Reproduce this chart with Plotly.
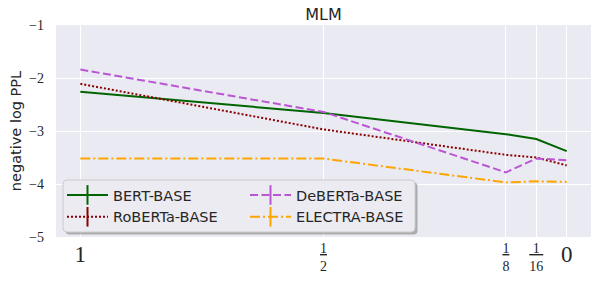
import plotly.graph_objects as go

# ---------------- data ----------------
x_vals = [1, 0.5, 0.125, 0.0625, 0]
bert = [-2.26, -2.66, -3.06, -3.15, -3.38]
roberta = [-2.11, -2.97, -3.45, -3.50, -3.65]
deberta = [-1.84, -2.64, -3.78, -3.52, -3.55]
electra = [-3.52, -3.52, -3.97, -3.95, -3.96]
series_names = ["BERT-BASE", "RoBERTa-BASE", "DeBERTa-BASE", "ELECTRA-BASE"]

frac_tickvals = [1, 0.5, 0.125, 0.0625, 0]
frac_num = ["", "1", "1", "&nbsp;1&nbsp;", ""]
frac_den = ["", "2", "8", "16", ""]
int_tickvals = [1, 0]
int_ticktext = ["1", "0"]
y_tickvals = [-5, -4, -3, -2, -1]
y_ticktext = ["\u22125", "\u22124", "\u22123", "\u22122", "\u22121"]

# ---------------- styling ----------------
W, H = 598, 282
L, R, T, B = 56, 7, 25, 45
PW, PH = W - L - R, H - T - B
TXT = "#262626"
SANS = "DejaVu Sans"
SERIF = "Liberation Serif"

colors = ["#006400", "#8B0000", "#BA55D3", "#FFA500"]
dashes = ["solid", "2px,2px", "8px,3.5px", "10px,3px,2px,3px"]
series = [bert, roberta, deberta, electra]

fig = go.Figure()
for name, ys, c, d in zip(series_names, series, colors, dashes):
    fig.add_trace(go.Scatter(x=x_vals, y=ys, mode="lines", name=name,
                             line=dict(color=c, width=2, dash=d),
                             showlegend=False, hoverinfo="skip"))

# invisible trace so that the secondary (integer-label) x axis is drawn
fig.add_trace(go.Scatter(x=int_tickvals, y=[None] * len(int_tickvals),
                         xaxis="x2", mode="lines", showlegend=False,
                         hoverinfo="skip"))

# legend entries (order fills rows: BERT, DeBERTa / RoBERTa, ELECTRA)
for i in [0, 2, 1, 3]:
    fig.add_trace(go.Scatter(x=[None], y=[None], mode="lines+markers",
                             name=series_names[i],
                             line=dict(color=colors[i], width=2, dash=dashes[i]),
                             marker=dict(symbol="line-ns", size=14,
                                         line=dict(width=2, color=colors[i]))))

def frac_label(n, d):
    if not d:
        return ""
    return "<u>%s</u><br>%s" % (n, d)

frac_ticktext = [frac_label(n, d) for n, d in zip(frac_num, frac_den)]


def px2paper(px, py):
    return (px - L) / PW, (H - B - py) / PH


def rounded_rect(x0, y0, x1, y1, r=4):
    ax0, ay0 = px2paper(x0, y0)
    ax1, ay1 = px2paper(x1, y1)
    rx, ry = r / PW, r / PH
    return (f"M{ax0+rx},{ay0} L{ax1-rx},{ay0} Q{ax1},{ay0} {ax1},{ay0-ry} "
            f"L{ax1},{ay1+ry} Q{ax1},{ay1} {ax1-rx},{ay1} "
            f"L{ax0+rx},{ay1} Q{ax0},{ay1} {ax0},{ay1+ry} "
            f"L{ax0},{ay0-ry} Q{ax0},{ay0} {ax0+rx},{ay0} Z")

box = (63, 180, 415, 232)
shapes = [
    dict(type="path", xref="paper", yref="paper", layer="above",
         path=rounded_rect(box[0] + 2.5, box[1] + 2.5, box[2] + 2.5, box[3] + 2.5),
         fillcolor="rgba(120,120,120,0.55)", line=dict(width=0)),
    dict(type="path", xref="paper", yref="paper", layer="above",
         path=rounded_rect(*box),
         fillcolor="#EBEBF1", line=dict(width=1, color="#CCCCCC")),
]

lx, ly = px2paper(62, 179)

fig.update_layout(
    width=W, height=H,
    margin=dict(l=L, r=R, t=T, b=B, pad=0),
    paper_bgcolor="white", plot_bgcolor="#EAEAF2",
    font=dict(family=SANS, color=TXT),
    title=dict(text="MLM", x=0.5, xref="paper", xanchor="center",
               y=1 - 14 / H, yref="container", yanchor="middle",
               font=dict(family=SANS, size=16, color=TXT)),
    xaxis=dict(range=[1.05, -0.05], tickmode="array", tickvals=frac_tickvals,
               ticktext=frac_ticktext, showgrid=True, gridcolor="white",
               gridwidth=1.2, zeroline=False, showline=False, ticks="",
               tickfont=dict(family=SERIF, size=14, color=TXT),
               ticklabelstandoff=1, automargin=False),
    xaxis2=dict(range=[1.05, -0.05], overlaying="x", side="bottom",
                tickmode="array", tickvals=int_tickvals, ticktext=int_ticktext,
                showgrid=False, zeroline=False, showline=False, ticks="",
                tickfont=dict(family=SERIF, size=23, color=TXT),
                ticklabelstandoff=1, automargin=False),
    yaxis=dict(range=[-5, -1], tickmode="array", tickvals=y_tickvals,
               ticktext=y_ticktext, showgrid=True, gridcolor="white",
               gridwidth=1.2, zeroline=False, showline=False, ticks="",
               tickfont=dict(family=SERIF, size=14, color=TXT),
               ticklabelstandoff=11, automargin=False,
               title=dict(text="negative log PPL", standoff=4,
                          font=dict(family=SANS, size=14.5, color=TXT))),
    legend=dict(orientation="h", x=lx, xref="paper", xanchor="left",
                y=ly, yref="paper", yanchor="top",
                bgcolor="rgba(0,0,0,0)", borderwidth=0,
                entrywidth=127, entrywidthmode="pixels",
                font=dict(family=SANS, size=14.5, color=TXT),
                itemwidth=41),
    shapes=shapes,
    showlegend=True,
)

fig.write_html("out.html",
               config={"displayModeBar": False},
               post_script=["document.body.style.margin='0';"
                            "document.body.style.padding='0';"])
